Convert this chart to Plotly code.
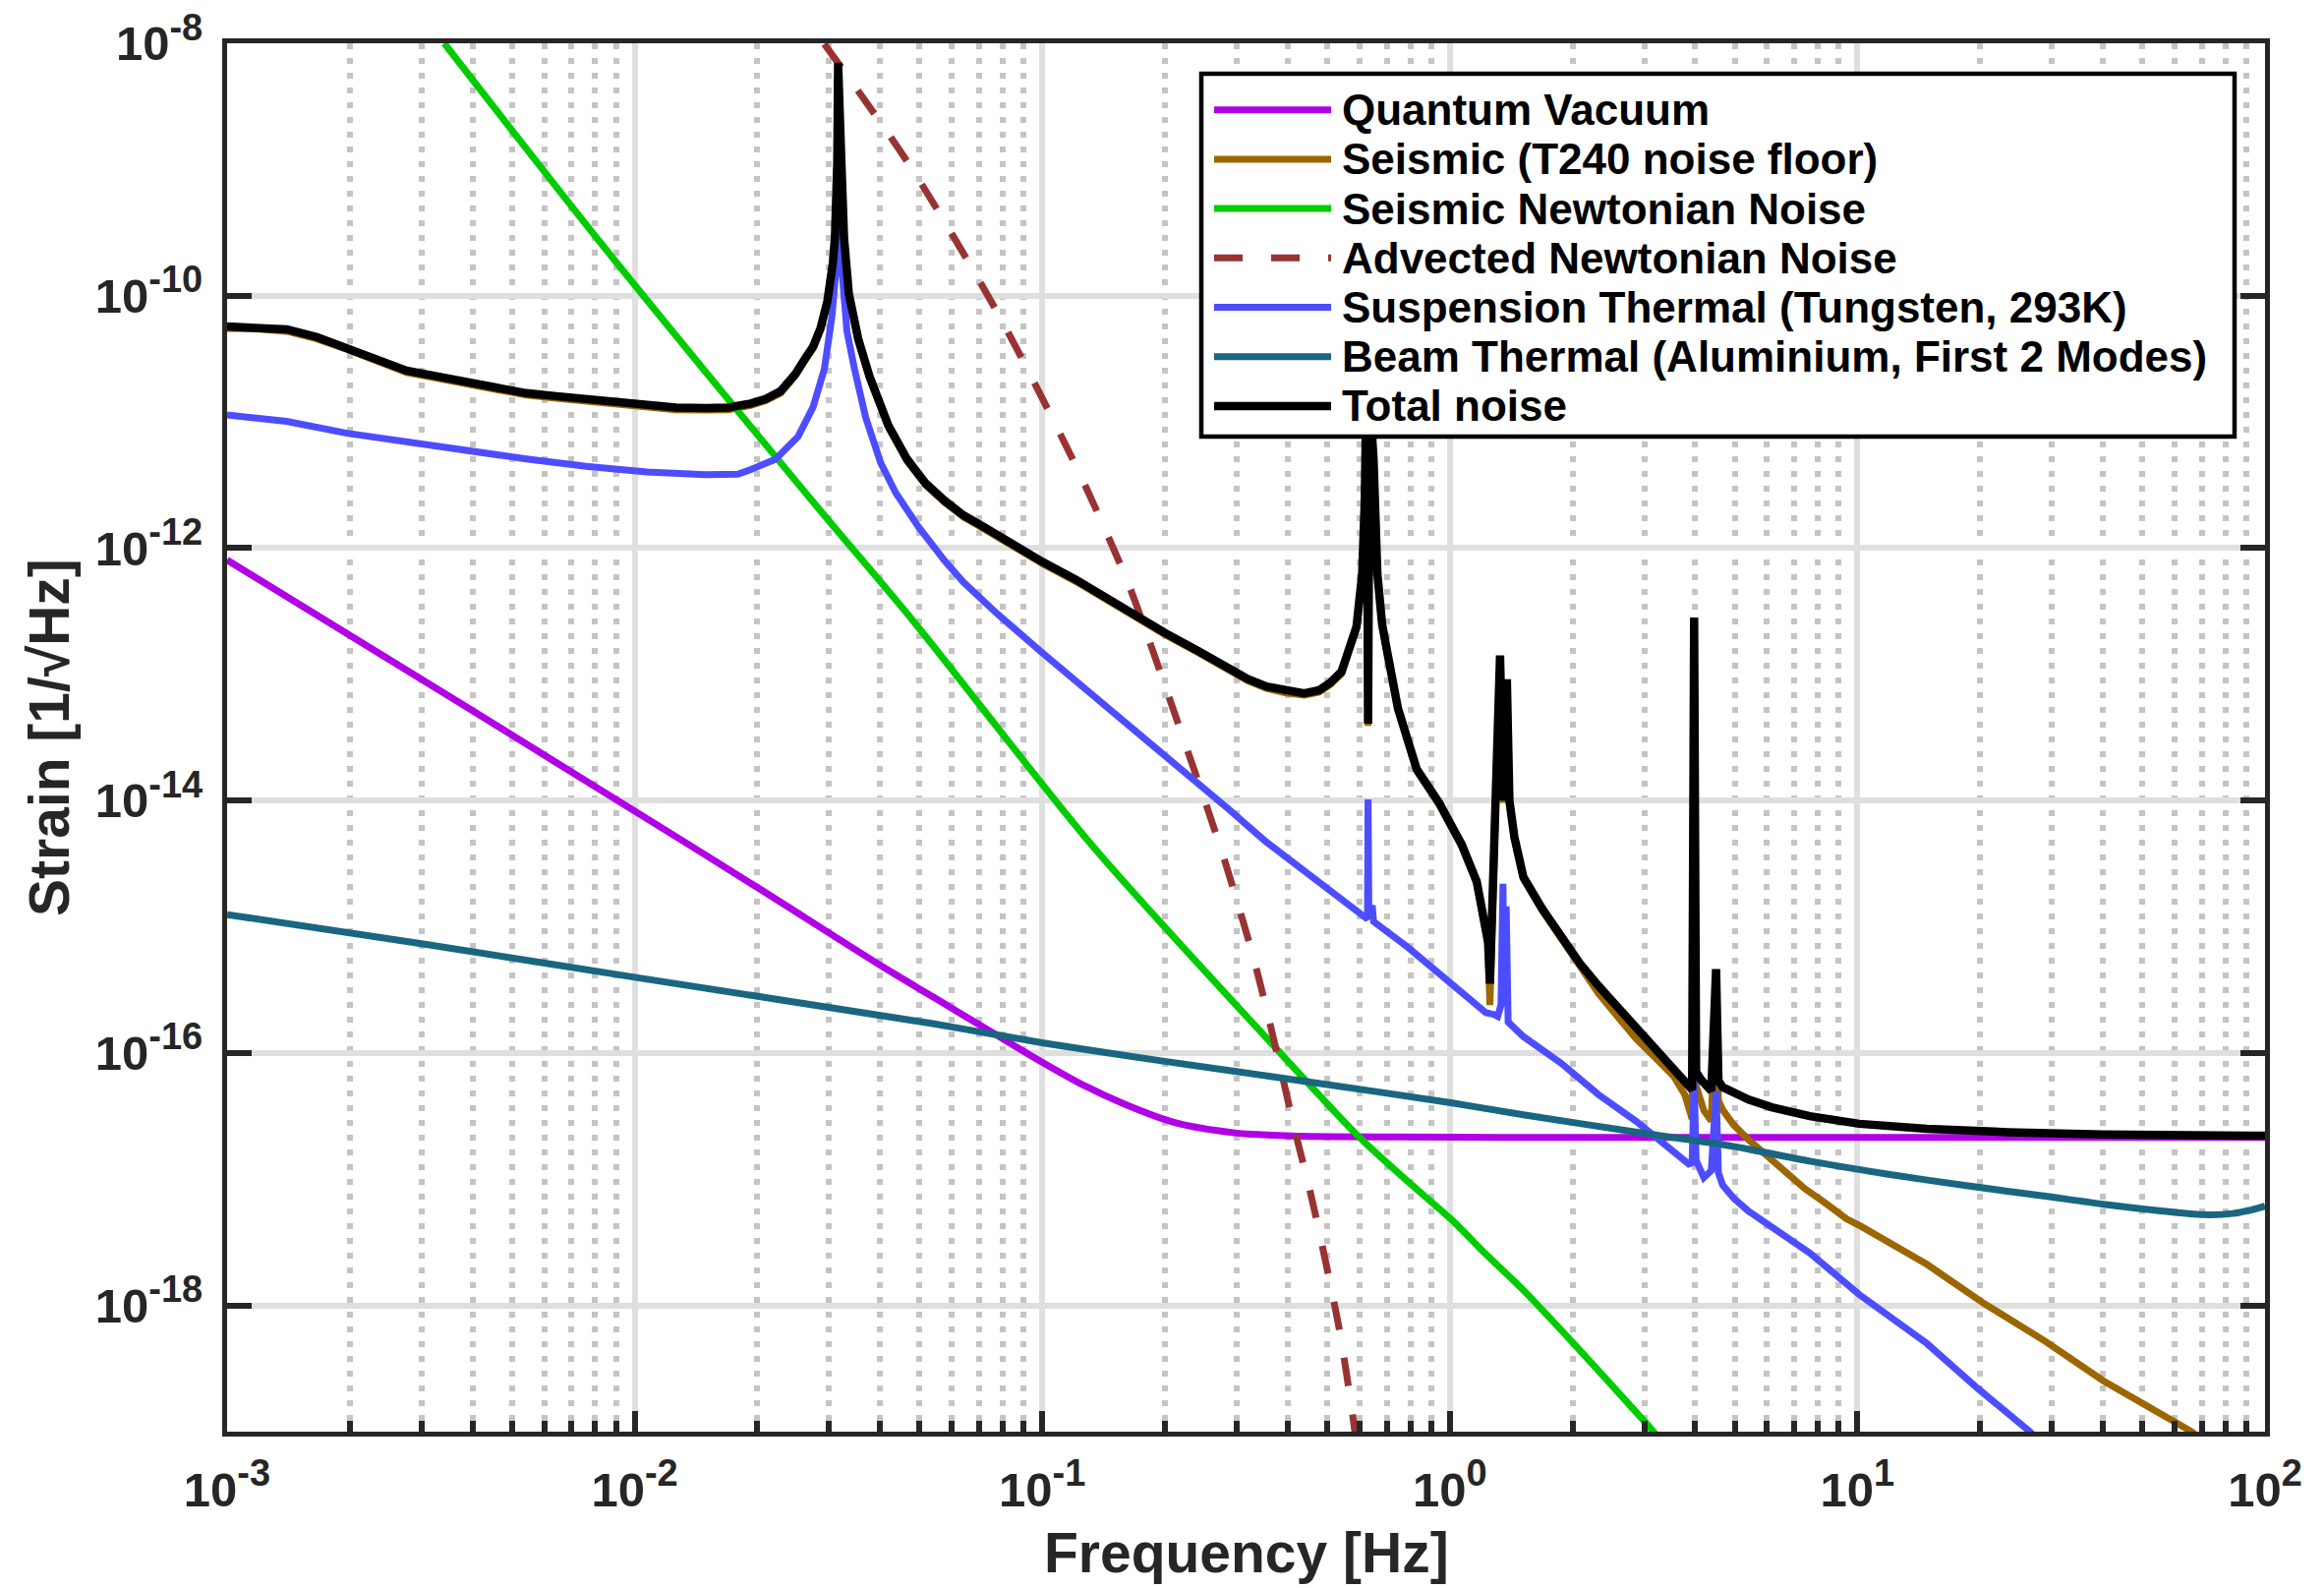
import plotly.graph_objects as go

# ---------------------------------------------------------------------------
# Noise budget data: frequency [Hz] and amplitude spectral density [1/sqrt(Hz)]
# ---------------------------------------------------------------------------
quantum_f = [1.0e-3, 3.86e-3, 0.0126, 0.02, 0.0409, 0.0543, 0.0747, 0.1006, 0.127,
             0.1604, 0.2114, 0.297, 0.408, 0.727, 1.0, 10.0, 100.0]
quantum_h = [8.05e-13, 5.53e-14, 5.20e-15, 2.05e-15, 4.75e-16, 2.75e-16, 1.48e-16,
             8.35e-17, 5.50e-17, 3.89e-17, 2.81e-17, 2.33e-17, 2.20e-17, 2.16e-17,
             2.15e-17, 2.14e-17, 2.14e-17]

seismic_f = [1.0e-3, 1.184e-3, 1.402e-3, 1.66e-3, 1.966e-3, 2.328e-3, 2.757e-3, 3.264e-3,
             3.866e-3, 4.577e-3, 5.42e-3, 6.418e-3, 7.60e-3, 9.0e-3, 0.01066, 0.01262,
             0.01494, 0.01696, 0.01925, 0.02095, 0.0228, 0.0248, 0.02627, 0.02742, 0.0286,
             0.0297, 0.03062, 0.0310, 0.03141, 0.03156, 0.03215, 0.03263, 0.03353, 0.03536,
             0.03770, 0.04190, 0.04659, 0.05180, 0.0575, 0.06405, 0.0712, 0.0792, 0.1005,
             0.1211, 0.1497, 0.1701, 0.2, 0.24, 0.287, 0.319, 0.355, 0.394, 0.439, 0.4775,
             0.509, 0.5423, 0.5903, 0.6095, 0.6185, 0.625, 0.630, 0.636, 0.650, 0.664, 0.682,
             0.700, 0.746, 0.829, 0.942, 1.07, 1.164, 1.241, 1.254, 1.328, 1.352, 1.38, 1.40,
             1.44, 1.515, 1.685, 1.874, 2.083, 2.316, 2.575, 2.864, 3.184, 3.54, 3.773,
             3.895, 3.93, 3.975, 4.02, 4.2, 4.38, 4.50, 4.56, 4.67, 4.97, 5.41, 6.02, 6.69,
             7.44, 8.27, 9.40, 10.2, 14.8, 20.6, 28.9, 40.1, 66.1, 70.0]
seismic_h = [5.50e-11, 5.46e-11, 5.22e-11, 4.55e-11, 3.76e-11, 3.02e-11, 2.46e-11, 2.22e-11,
             2.00e-11, 1.80e-11, 1.63e-11, 1.54e-11, 1.47e-11, 1.40e-11, 1.32e-11, 1.25e-11,
             1.24e-11, 1.25e-11, 1.35e-11, 1.47e-11, 1.69e-11, 2.32e-11, 3.12e-11, 3.82e-11,
             5.39e-11, 8.70e-11, 1.73e-10, 2.79e-10, 1.10e-9, 6.8e-9, 1.10e-9, 2.79e-10,
             1.00e-10, 4.39e-11, 2.21e-11, 9.07e-12, 4.89e-12, 3.14e-12, 2.31e-12, 1.76e-12,
             1.45e-12, 1.17e-12, 7.46e-13, 5.42e-13, 3.59e-13, 2.76e-13, 2.06e-13, 1.50e-13,
             1.095e-13, 8.88e-14, 7.74e-14, 7.14e-14, 6.83e-14, 7.22e-14, 8.29e-14, 1.01e-13,
             2.32e-13, 6.09e-13, 2.36e-12, 2.42e-11, 3.90e-14, 1.52e-11, 4.83e-12, 6.09e-13,
             2.41e-13, 1.52e-13, 5.18e-14, 1.72e-14, 9.20e-15, 4.30e-15, 2.20e-15, 7.20e-16,
             2.40e-16, 1.36e-13, 9.60e-15, 8.80e-14, 9.60e-15, 4.95e-15, 2.39e-15, 1.34e-15,
             7.95e-16, 4.85e-16, 2.96e-16, 1.96e-16, 1.30e-16, 9.25e-17, 6.56e-17, 4.66e-17,
             3.09e-17, 3.00e-17, 2.75e-13, 5.50e-17, 3.50e-17, 2.90e-17, 4.50e-16, 4.20e-17,
             3.55e-17, 2.69e-17, 2.05e-17, 1.50e-17, 1.10e-17, 8.39e-18, 6.61e-18, 4.85e-18,
             4.24e-18, 2.12e-18, 1.02e-18, 5.20e-19, 2.53e-19, 1.00e-19, 8.50e-20]

seismic_nn_f = [3.41e-3, 8.27e-3, 0.0275, 0.0486, 0.1325, 0.367, 0.598, 0.772, 1.017,
                1.205, 1.515, 2.0, 3.05, 3.2]
seismic_nn_h = [1.0e-8, 2.60e-10, 2.29e-12, 2.57e-13, 4.41e-15, 1.17e-16, 2.17e-17,
                1.02e-17, 4.68e-18, 2.69e-18, 1.32e-18, 5.10e-19, 1.14e-19, 9.50e-20]

advected_nn_f = [0.0292, 0.0471, 0.0776, 0.1224, 0.1596, 0.1755, 0.2727, 0.297, 0.330,
                 0.3594, 0.383, 0.417, 0.454, 0.494, 0.538, 0.579, 0.590]
advected_nn_h = [9.86e-9, 1.10e-9, 7.35e-11, 4.13e-12, 6.07e-13, 2.70e-13, 4.41e-15,
                 1.81e-15, 5.64e-16, 1.88e-16, 7.90e-17, 2.41e-17, 8.05e-18, 2.34e-18,
                 5.96e-19, 1.27e-19, 7.90e-20]

suspension_f = [1.0e-3, 1.40e-3, 1.97e-3, 2.76e-3, 3.86e-3, 5.42e-3, 7.6e-3, 0.0107, 0.0149,
                0.0179, 0.0192, 0.02217, 0.02518, 0.02742, 0.0292, 0.03048, 0.03127, 0.0316,
                0.03215, 0.03318, 0.03462, 0.03689, 0.04016, 0.04371, 0.04966, 0.05761,
                0.06405, 0.07753, 0.1, 0.15, 0.2, 0.287, 0.352, 0.505, 0.60, 0.628, 0.630,
                0.633, 0.645, 0.650, 0.788, 0.983, 1.225, 1.282, 1.31, 1.335, 1.350, 1.360,
                1.375, 1.39, 1.515, 1.874, 2.316, 2.864, 3.54, 3.855, 3.93, 3.975, 4.02, 4.2,
                4.38, 4.50, 4.56, 4.67, 4.97, 5.41, 7.64, 10.1, 14.8, 19.7, 26.5, 28.0]
suspension_h = [1.135e-11, 1.01e-11, 8.13e-12, 6.93e-12, 5.93e-12, 5.09e-12, 4.45e-12,
                4.01e-12, 3.82e-12, 3.85e-12, 4.17e-12, 5.07e-12, 7.66e-12, 1.32e-11,
                2.63e-11, 6.86e-11, 1.79e-10, 5.0e-10, 1.79e-10, 5.21e-11, 2.63e-11,
                1.08e-11, 4.73e-12, 2.74e-12, 1.48e-12, 7.94e-13, 5.37e-13, 3.02e-13,
                1.48e-13, 5.01e-14, 2.29e-14, 8.51e-15, 4.79e-15, 1.96e-15, 1.29e-15,
                1.15e-15, 1.02e-14, 1.15e-15, 1.48e-15, 1.10e-15, 6.90e-16, 3.83e-16,
                2.09e-16, 2.02e-16, 1.95e-16, 2.40e-16, 2.19e-15, 3.16e-16, 1.45e-15,
                1.76e-16, 1.35e-16, 8.32e-17, 4.68e-17, 2.88e-17, 1.66e-17, 1.32e-17,
                1.35e-17, 6.30e-17, 1.41e-17, 1.03e-17, 1.17e-17, 5.00e-17, 1.12e-17,
                9.00e-18, 7.08e-18, 5.57e-18, 2.60e-18, 1.22e-18, 5.00e-19, 2.21e-19,
                1.00e-19, 8.30e-20]

beam_f = [1.0e-3, 3.0e-3, 0.01, 0.0543, 0.1006, 0.194, 0.454, 1.006, 1.515, 3.05, 4.96,
          7.64, 11.8, 18.3, 28.3, 40.1, 55.5, 70.5, 83.5, 92.9, 100.0]
beam_h = [1.25e-15, 7.34e-16, 3.98e-16, 1.70e-16, 1.20e-16, 8.71e-17, 5.89e-17, 4.03e-17,
          3.24e-17, 2.29e-17, 1.82e-17, 1.39e-17, 1.10e-17, 8.93e-18, 7.41e-18, 6.34e-18,
          5.62e-18, 5.24e-18, 5.35e-18, 5.73e-18, 6.12e-18]

total_f = [1.0e-3, 1.184e-3, 1.402e-3, 1.66e-3, 1.966e-3, 2.328e-3, 2.757e-3, 3.264e-3,
           3.866e-3, 4.577e-3, 5.42e-3, 6.418e-3, 7.60e-3, 9.0e-3, 0.01066, 0.01262,
           0.01494, 0.01696, 0.01925, 0.02095, 0.0228, 0.0248, 0.02627, 0.02742, 0.0286,
           0.0297, 0.03062, 0.0310, 0.03141, 0.03156, 0.03215, 0.03263, 0.03353, 0.03536,
           0.03770, 0.04190, 0.04659, 0.05180, 0.0575, 0.06405, 0.0712, 0.0792, 0.1005,
           0.1211, 0.1497, 0.1701, 0.2, 0.24, 0.287, 0.319, 0.355, 0.394, 0.439, 0.4775,
           0.509, 0.5423, 0.5903, 0.6095, 0.6185, 0.625, 0.630, 0.636, 0.650, 0.664, 0.682,
           0.700, 0.746, 0.829, 0.942, 1.07, 1.164, 1.241, 1.254, 1.328, 1.352, 1.38, 1.40,
           1.44, 1.515, 1.685, 1.874, 2.083, 2.316, 2.575, 2.864, 3.184, 3.54, 3.855, 3.93,
           3.975, 4.02, 4.13, 4.38, 4.50, 4.56, 4.67, 4.97, 5.41, 6.16, 7.64, 10.1, 14.8,
           23.3, 40.0, 100.0]
total_h = [5.70e-11, 5.66e-11, 5.41e-11, 4.71e-11, 3.89e-11, 3.13e-11, 2.55e-11, 2.30e-11,
           2.07e-11, 1.87e-11, 1.69e-11, 1.60e-11, 1.52e-11, 1.45e-11, 1.37e-11, 1.30e-11,
           1.29e-11, 1.30e-11, 1.40e-11, 1.52e-11, 1.75e-11, 2.40e-11, 3.23e-11, 3.96e-11,
           5.58e-11, 9.02e-11, 1.79e-10, 2.89e-10, 1.14e-9, 7.0e-9, 1.14e-9, 2.89e-10,
           1.04e-10, 4.55e-11, 2.29e-11, 9.40e-12, 5.07e-12, 3.25e-12, 2.39e-12, 1.82e-12,
           1.50e-12, 1.21e-12, 7.73e-13, 5.62e-13, 3.72e-13, 2.86e-13, 2.13e-13, 1.55e-13,
           1.135e-13, 9.20e-14, 8.02e-14, 7.40e-14, 7.08e-14, 7.48e-14, 8.59e-14, 1.05e-13,
           2.40e-13, 6.31e-13, 2.45e-12, 2.51e-11, 4.07e-14, 1.58e-11, 5.01e-12, 6.31e-13,
           2.50e-13, 1.58e-13, 5.37e-14, 1.78e-14, 9.55e-15, 4.47e-15, 2.29e-15, 7.59e-16,
           3.55e-16, 1.41e-13, 1.00e-14, 9.12e-14, 1.00e-14, 5.13e-15, 2.48e-15, 1.39e-15,
           8.28e-16, 5.13e-16, 3.40e-16, 2.33e-16, 1.60e-16, 1.14e-16, 7.80e-17, 5.53e-17,
           5.13e-17, 2.82e-13, 7.08e-17, 6.17e-17, 5.01e-17, 4.62e-16, 6.03e-17, 5.37e-17,
           4.79e-17, 4.27e-17, 3.72e-17, 3.16e-17, 2.75e-17, 2.51e-17, 2.36e-17, 2.26e-17,
           2.21e-17]

legend_labels = ["Quantum Vacuum", "Seismic (T240 noise floor)", "Seismic Newtonian Noise",
                 "Advected Newtonian Noise", "Suspension Thermal (Tungsten, 293K)",
                 "Beam Thermal (Aluminium, First 2 Modes)", "Total noise"]

x_tick_vals = [1e-3, 1e-2, 1e-1, 1e0, 1e1, 1e2]
x_tick_exp = ["-3", "-2", "-1", "0", "1", "2"]
y_tick_vals = [1e-18, 1e-16, 1e-14, 1e-12, 1e-10, 1e-8]
y_tick_exp = ["-18", "-16", "-14", "-12", "-10", "-8"]

# ---------------------------------------------------------------------------
# Styling
# ---------------------------------------------------------------------------
FONT = "Liberation Sans, Arial, Helvetica, sans-serif"
AX = "#262626"
W, H = 2364, 1615
ML, MR, MT, MB = 231, 60, 44, 159
PW, PH = W - ML - MR, H - MT - MB
SUP_SIZE = 38


def power_label(exp):
    return f'10<sup><span style="font-size:{SUP_SIZE}px">{exp}</span></sup>'


# (x, y, colour, width, dash, smooth curve?)
series = [
    (quantum_f, quantum_h, "#b000e6", 7, "solid", True),
    (seismic_f, seismic_h, "#9c6600", 7, "solid", False),
    (seismic_nn_f, seismic_nn_h, "#00cc00", 7, "solid", True),
    (advected_nn_f, advected_nn_h, "#993333", 7, "29px,29px", True),
    (suspension_f, suspension_h, "#4d4dff", 7, "solid", False),
    (beam_f, beam_h, "#1a6680", 7, "solid", True),
    (total_f, total_h, "#000000", 8.5, "solid", False),
]

fig = go.Figure()
for (fx, fy, color, width, dash, smooth), name in zip(series, legend_labels):
    line = dict(color=color, width=width, dash=dash)
    if smooth:
        line.update(shape="spline", smoothing=0.8)
    fig.add_trace(go.Scatter(x=fx, y=fy, mode="lines", name=name, showlegend=False,
                             line=line))

# minor (2..9) positions inside each decade of the frequency axis
minor_x = [k * 10.0 ** e for e in range(-3, 2) for k in range(2, 10)]

tickfont = dict(family=FONT, size=49, color=AX, weight="bold")
minor_style = dict(tickmode="array", tickvals=minor_x, ticks="inside", ticklen=11,
                   tickwidth=6, tickcolor=AX)

fig.update_layout(
    xaxis=dict(
        type="log", range=[-3, 2], tickmode="array", tickvals=x_tick_vals,
        ticktext=[power_label(e) for e in x_tick_exp],
        tickfont=tickfont, ticks="inside", ticklen=21, tickwidth=6, tickcolor=AX,
        showline=True, linewidth=5, linecolor=AX, mirror=True,
        showgrid=True, gridcolor="#dfdfdf", gridwidth=6, zeroline=False,
        ticklabelstandoff=12,
        minor=dict(**minor_style, showgrid=True, gridcolor="#c4c4c4", gridwidth=6,
                   griddash="6px,9px"),
    ),
    # tick marks along the top edge of the frame
    xaxis2=dict(
        type="log", range=[-3, 2], overlaying="x", side="top", anchor="y",
        tickmode="array", tickvals=x_tick_vals, showticklabels=False,
        ticks="inside", ticklen=21, tickwidth=6, tickcolor=AX,
        showline=False, showgrid=False, zeroline=False,
        minor=dict(**minor_style, showgrid=False),
    ),
    yaxis=dict(
        type="log", range=[-19, -8], tickmode="array", tickvals=y_tick_vals,
        ticktext=[power_label(e) for e in y_tick_exp],
        tickfont=tickfont, ticks="inside", ticklen=25, tickwidth=6, tickcolor=AX,
        showline=True, linewidth=5, linecolor=AX, mirror="allticks",
        showgrid=True, gridcolor="#dfdfdf", gridwidth=6, zeroline=False,
        ticklabelstandoff=10,
    ),
)


def px_x(px):
    return (px - ML) / PW


def px_y(py):
    return (H - MB - py) / PH


annotations = [
    dict(text="Frequency [Hz]", x=0.5, y=px_y(1579), xref="paper", yref="paper",
         xanchor="center", yanchor="middle", showarrow=False,
         font=dict(family=FONT, size=57, color=AX, weight="bold")),
    dict(text="Strain [1/\u221aHz]", x=px_x(50), y=0.5, xref="paper", yref="paper",
         xanchor="center", yanchor="middle", textangle=-90, showarrow=False,
         font=dict(family=FONT, size=57, color=AX, weight="bold")),
]

# legend box
LEG_X0, LEG_X1, LEG_Y0, LEG_Y1 = 1222, 2273, 75, 444
ROW0, ROW_STEP = 111.7, 50.2
SAMPLE_X0, SAMPLE_X1, TEXT_X = 1235, 1354, 1363

shapes = [dict(type="rect", xref="paper", yref="paper", layer="above",
               x0=px_x(LEG_X0), x1=px_x(LEG_X1), y0=px_y(LEG_Y1), y1=px_y(LEG_Y0),
               fillcolor="white", line=dict(color="black", width=4.5))]
for i, ((_, _, color, width, dash, _), name) in enumerate(zip(series, legend_labels)):
    yrow = ROW0 + i * ROW_STEP
    shapes.append(dict(type="line", xref="paper", yref="paper", layer="above",
                       x0=px_x(SAMPLE_X0), x1=px_x(SAMPLE_X1), y0=px_y(yrow), y1=px_y(yrow),
                       line=dict(color=color, width=width, dash=dash)))
    annotations.append(dict(text=name, x=px_x(TEXT_X), y=px_y(yrow), xref="paper",
                            yref="paper", xanchor="left", yanchor="middle", showarrow=False,
                            font=dict(family=FONT, size=44, color="black", weight="bold")))

fig.update_layout(
    width=W, height=H, margin=dict(l=ML, r=MR, t=MT, b=MB, autoexpand=False),
    paper_bgcolor="white", plot_bgcolor="white", showlegend=False,
    annotations=annotations, shapes=shapes,
)

fig.write_html("out.html")
